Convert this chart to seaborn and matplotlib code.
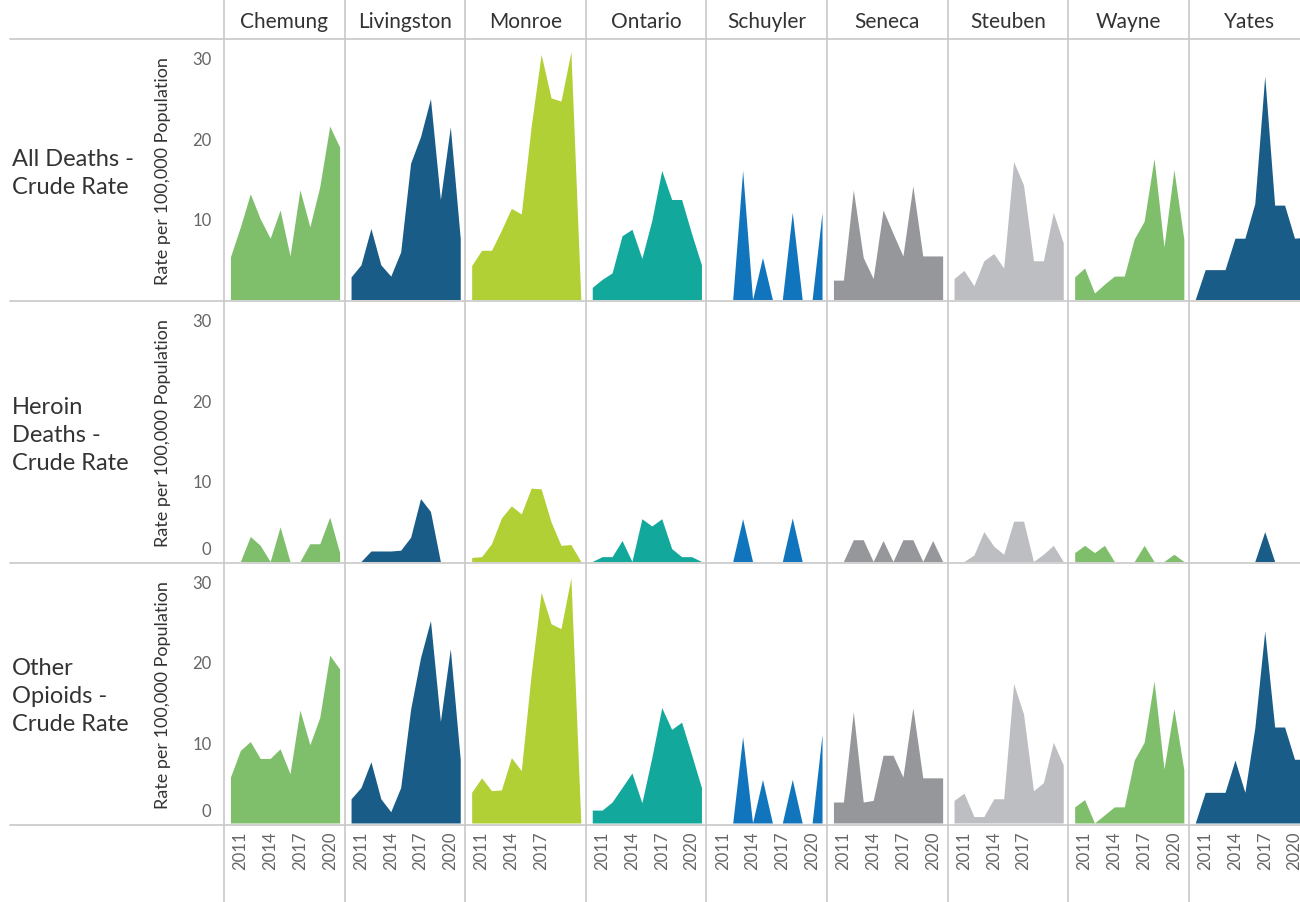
import matplotlib
matplotlib.use('Agg')

import numpy as np
import pandas as pd
import seaborn as sns
import matplotlib.pyplot as plt
from matplotlib.lines import Line2D
from matplotlib.transforms import ScaledTranslation

# --- data (rate per 100,000) ---
years = list(range(2010, 2022))
counties = ["Chemung", "Livingston", "Monroe", "Ontario", "Schuyler",
            "Seneca", "Steuben", "Wayne", "Yates"]
county_colors = {
    "Chemung": "#7fbf6c", "Livingston": "#195c87", "Monroe": "#b0d035",
    "Ontario": "#12a89b", "Schuyler": "#1175be", "Seneca": "#96979b",
    "Steuben": "#bdbec2", "Wayne": "#7fbf6c", "Yates": "#195c87",
}
measures = ["All Deaths -\nCrude Rate", "Heroin\nDeaths -\nCrude Rate",
            "Other\nOpioids -\nCrude Rate"]

all_deaths = {
    "Chemung":    [5.3, 9.0, 13.1, 10.0, 7.6, 11.1, 5.4, 13.6, 9.0, 14.0, 21.5, 18.9],
    "Livingston": [2.8, 4.3, 8.8, 4.3, 2.9, 5.9, 16.9, 20.2, 24.9, 12.4, 21.4, 7.6],
    "Monroe":     [4.2, 6.1, 6.1, 8.6, 11.3, 10.6, 21.5, 30.4, 25.0, 24.6, 30.7, 0],
    "Ontario":    [1.5, 2.5, 3.3, 7.9, 8.7, 5.1, 9.8, 16.0, 12.4, 12.4, 8.2, 4.3],
    "Schuyler":   [0, 0, 0, 16.0, 0, 5.2, 0, 0, 10.8, 0, 0, 10.8],
    "Seneca":     [2.4, 2.4, 13.6, 5.2, 2.6, 11.1, 8.2, 5.4, 14.1, 5.4, 5.4, 5.4],
    "Steuben":    [2.6, 3.6, 1.7, 4.8, 5.7, 3.9, 17.1, 14.2, 4.8, 4.8, 10.8, 7.0],
    "Wayne":      [2.8, 3.9, 0.8, 1.9, 2.9, 2.9, 7.5, 9.7, 17.5, 6.5, 16.1, 7.5],
    "Yates":      [0, 3.7, 3.7, 3.7, 7.6, 7.6, 11.9, 27.7, 11.7, 11.7, 7.6, 7.7],
}
heroin = {
    "Chemung":    [0, 0, 3.1, 2.0, 0, 4.3, 0, 0, 2.2, 2.2, 5.5, 1.1],
    "Livingston": [0, 0, 1.3, 1.3, 1.3, 1.4, 3.0, 7.8, 6.2, 0, 0, 0],
    "Monroe":     [0.5, 0.6, 2.2, 5.4, 6.9, 5.9, 9.1, 9.0, 4.9, 2.0, 2.1, 0],
    "Ontario":    [0, 0.6, 0.6, 2.6, 0, 5.3, 4.4, 5.3, 1.6, 0.6, 0.6, 0],
    "Schuyler":   [0, 0, 0, 5.3, 0, 0, 0, 0, 5.4, 0, 0, 0],
    "Seneca":     [0, 0, 2.7, 2.7, 0, 2.6, 0, 2.7, 2.7, 0, 2.6, 0],
    "Steuben":    [0, 0, 0.8, 3.7, 1.9, 0.9, 5.0, 5.0, 0, 0.9, 2.0, 0],
    "Wayne":      [1.1, 2.0, 1.1, 2.0, 0, 0, 0, 2.0, 0, 0, 0.9, 0],
    "Yates":      [0, 0, 0, 0, 0, 0, 0, 3.7, 0, 0, 0, 0],
}
other_opioids = {
    "Chemung":    [5.7, 9.0, 10.1, 8.0, 8.0, 9.2, 6.1, 14.0, 9.7, 13.1, 20.8, 19.1],
    "Livingston": [3.0, 4.4, 7.6, 3.0, 1.4, 4.4, 14.1, 20.5, 25.1, 12.6, 21.6, 7.9],
    "Monroe":     [3.8, 5.6, 4.0, 4.1, 8.1, 6.5, 18.5, 28.6, 24.7, 24.1, 30.4, 0],
    "Ontario":    [1.6, 1.6, 2.6, 4.4, 6.2, 2.5, 8.1, 14.3, 11.6, 12.5, 8.5, 4.4],
    "Schuyler":   [0, 0, 0, 10.7, 0, 5.4, 0, 0, 5.4, 0, 0, 11.0],
    "Seneca":     [2.6, 2.6, 13.8, 2.6, 2.8, 8.4, 8.4, 5.7, 14.3, 5.6, 5.6, 5.6],
    "Steuben":    [2.8, 3.7, 0.8, 0.8, 3.0, 3.0, 17.3, 13.5, 4.0, 5.0, 10.0, 7.2],
    "Wayne":      [2.0, 2.9, 0, 1.0, 2.0, 2.0, 7.8, 10.0, 17.6, 6.7, 14.2, 6.6],
    "Yates":      [0, 3.8, 3.8, 3.8, 7.8, 3.8, 11.8, 23.8, 11.9, 11.9, 7.9, 7.9],
}
x_ticks = {c: [2011, 2014, 2017, 2020] for c in counties}
x_ticks["Monroe"] = [2011, 2014, 2017]
x_ticks["Steuben"] = [2011, 2014, 2017]

rows = []
for m, table in zip(measures, [all_deaths, heroin, other_opioids]):
    for c in counties:
        for yr, v in zip(years, table[c]):
            rows.append({"measure": m, "county": c, "year": yr, "rate": v})
df = pd.DataFrame(rows)

sns.set_theme(style="white")
plt.rcParams['font.family'] = ['Lato', 'DejaVu Sans']

TXT = "#333333"
TICK = "#666666"
GRID = "#c8c8c8"


def draw_area(data, **kws):
    ax = plt.gca()
    c = county_colors[data["county"].iloc[0]]
    ax.fill_between(data["year"], data["rate"], 0, color=c, linewidth=0)


g = sns.FacetGrid(df, row="measure", col="county", row_order=measures,
                  col_order=counties, sharex=False, sharey=False,
                  despine=False, height=2, aspect=0.5)
g.map_dataframe(draw_area)

fig = g.figure
fig.set_size_inches(13, 9.03)
W, H = 1300, 903

# pixel layout of the panels
col_left = 224
col_w = 120.6
row_tops = [40, 302, 563.5]
row_h = 262.5

for i, m in enumerate(measures):
    for j, c in enumerate(counties):
        ax = g.axes[i, j]
        l = col_left + j * col_w
        t = row_tops[i]
        ax.set_position([l / W, 1 - (t + row_h) / H, col_w / W, row_h / H])
        ax.set_xlim(2009.35, 2021.5)
        ax.set_ylim(-0.25, 32.3)
        ax.set_title("")
        ax.set_xlabel("")
        ax.set_ylabel("")
        for s in ax.spines.values():
            s.set_visible(False)
        ax.grid(False)
        ax.tick_params(length=0)
        if i == 2:
            ax.set_xticks(x_ticks[c])
            ax.set_xticklabels([str(v) for v in x_ticks[c]], rotation=90,
                               fontsize=12, color=TICK)
            ax.tick_params(axis="x", pad=4)
        else:
            ax.set_xticks([])
        if j == 0:
            yt = [10, 20, 30] if i == 0 else [0, 10, 20, 30]
            ax.set_yticks(yt)
            ax.set_yticklabels([str(v) for v in yt], fontsize=12, color=TICK)
            ax.tick_params(axis="y", pad=9)
            if i > 0:
                lab0 = ax.yaxis.get_major_ticks()[0].label1
                lab0.set_va("bottom")
                lab0.set_transform(lab0.get_transform() +
                                   ScaledTranslation(0, 3 / 72, fig.dpi_scale_trans))
            ax.set_ylabel("Rate per 100,000 Population", fontsize=13, color=TXT)
            ax.yaxis.set_label_coords(-0.44, 0.5)
        else:
            ax.set_yticks([])

# column headers
for j, c in enumerate(counties):
    xc = (col_left + (j + 0.5) * col_w) / W
    fig.text(xc, 1 - 22 / H, c, ha="center", va="center", fontsize=15, color=TXT)

# row headers
for i, m in enumerate(measures):
    yc = 1 - (row_tops[i] + row_h / 2 + 2) / H
    fig.text(12 / W, yc, m, ha="left", va="center", fontsize=17, color=TXT,
             linespacing=1.4)

# separator lines
for j in range(len(counties) + 1):
    x = (col_left + j * col_w) / W
    fig.add_artist(Line2D([x, x], [0, 1], transform=fig.transFigure,
                          color=GRID, linewidth=1.2))
for y in [40, 302, 563.5, 826]:
    fig.add_artist(Line2D([10 / W, 1], [1 - y / H, 1 - y / H],
                          transform=fig.transFigure, color=GRID, linewidth=1.2))

fig.savefig("out.png", dpi=100)
